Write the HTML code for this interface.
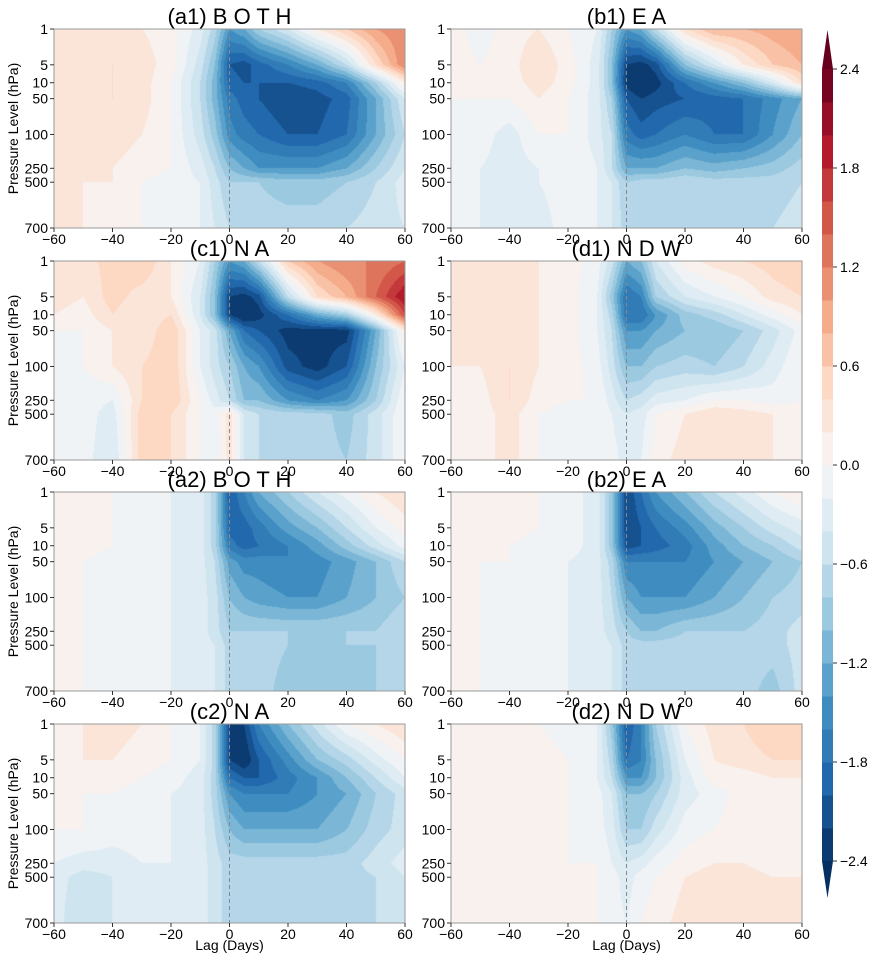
<!DOCTYPE html>
<html><head><meta charset="utf-8"><style>
body{margin:0;background:#fff;width:874px;height:964px;position:relative;overflow:hidden;font-family:"Liberation Sans",sans-serif}
canvas{position:absolute}
svg{position:absolute;left:0;top:0}
</style></head><body>
<div id="wrap"></div>
<svg id="ov" width="874" height="964"></svg>
<script>
const lags=[-60,-50,-40,-30,-20,-10,-5,0,5,10,20,30,40,50,60];
const levels=[1,5,10,50,100,250,500,700];
const levelFrac=[0,0.18,0.27,0.35,0.53,0.70,0.77,1];
const yTickLabels=["1","5","10","50","100","250","500","700"];
const xTickLabels=[-60,-40,-20,0,20,40,60];
const cbTicks=[2.4,1.8,1.2,0.6,0.0,-0.6,-1.2,-1.8,-2.4];
const titles=["(a1) B O T H","(b1) E A","(c1) N A","(d1) N D W","(a2) B O T H","(b2) E A","(c2) N A","(d2) N D W"];
const a1=[[0.3,0.3,0.2,0.2,0.1,-0.3,-0.7,-1.4,-1.2,-0.8,-0.4,0.2,0.6,1.0,1.2],[0.2,0.3,0.4,0.3,0.1,-0.5,-1.0,-2.0,-2.1,-1.9,-1.6,-1.2,-0.6,0.4,1.2],[0.2,0.3,0.4,0.3,0,-0.6,-1.1,-1.9,-2.0,-2.0,-2.0,-1.9,-1.6,-0.8,0.2],[0.2,0.3,0.4,0.3,0,-0.6,-1.1,-1.7,-1.9,-2.0,-2.2,-2.1,-1.9,-1.2,-0.4],[0.2,0.3,0.3,0.2,0,-0.5,-0.9,-1.5,-1.7,-1.8,-2.0,-2.0,-1.8,-1.2,-0.6],[0.2,0.2,0.2,0.1,0,-0.3,-0.6,-1.0,-1.2,-1.4,-1.4,-1.4,-1.2,-0.8,-0.4],[0.2,0.2,0.2,0,-0.1,-0.2,-0.5,-0.8,-0.8,-0.8,-0.9,-0.9,-0.8,-0.6,-0.3],[0.2,0.2,0.1,0,-0.1,-0.2,-0.4,-0.6,-0.6,-0.7,-0.7,-0.7,-0.6,-0.5,-0.4]];
const b1=[[0.1,-0.1,0.1,0.2,0,-0.2,-0.8,-1.4,-1.2,-0.6,0.4,0.8,0.8,0.9,1.0],[0.1,0,0.1,0.4,0.1,-0.3,-1.0,-2.2,-2.3,-2.1,-1.0,-0.4,0.2,0.6,0.8],[0,0,0.1,0.3,0.1,-0.3,-1.0,-2.3,-2.5,-2.3,-1.8,-1.4,-1.0,-0.4,0.4],[0,0,0,0.2,0,-0.3,-0.8,-2.0,-2.2,-2.1,-2.0,-1.9,-1.8,-1.5,-1.2],[-0.1,-0.1,-0.3,0,0,-0.3,-0.6,-1.7,-1.9,-1.8,-1.6,-1.8,-1.8,-1.4,-1.0],[-0.2,-0.2,-0.3,-0.2,0,-0.2,-0.6,-1.2,-1.2,-1.2,-1.0,-1.1,-1.0,-0.9,-0.7],[-0.2,-0.2,-0.3,-0.2,-0.1,-0.2,-0.4,-0.8,-0.7,-0.7,-0.6,-0.7,-0.7,-0.7,-0.6],[-0.2,-0.2,-0.3,-0.3,-0.1,-0.2,-0.4,-0.7,-0.6,-0.6,-0.6,-0.6,-0.7,-0.6,-0.5]];
const c1=[[0.4,0.3,0.5,0.6,0.2,-0.2,-0.8,-1.4,-1.2,-0.6,0.6,1.0,1.2,1.2,1.4],[0.3,0.2,0.5,0.3,0.2,-0.4,-1.0,-2.2,-2.3,-2.1,-0.6,0.4,0.8,1.4,2.0],[0.2,0.1,0.4,0.2,0.4,-0.4,-1.0,-2.2,-2.5,-2.3,-1.8,-1.2,-0.8,0.2,1.6],[0,0,0.2,0.2,0.6,-0.2,-0.5,-1.2,-1.8,-2.0,-2.3,-2.3,-2.3,-1.2,0.2],[-0.1,0,0.2,0.4,0.6,-0.2,-0.5,-0.8,-1.2,-1.4,-2.1,-2.3,-2.0,-1.0,-0.2],[-0.2,-0.1,-0.2,0.4,0.6,0,-0.3,-0.6,-1.0,-1.0,-1.4,-1.6,-1.4,-0.8,0],[-0.2,-0.1,-0.3,0.5,0.4,0,-0.1,0.3,-0.4,-0.6,-0.7,-0.7,-0.9,-0.5,0],[-0.1,-0.1,-0.4,0.5,0.4,0,-0.2,0.3,-0.4,-0.6,-0.7,-0.7,-0.8,-0.5,0]];
const d1=[[0.3,0.3,0.2,0.2,0.1,-0.1,-0.5,-1.2,-1.0,-0.4,0.1,0.3,0.4,0.5,0.6],[0.4,0.4,0.3,0.2,0.1,-0.2,-0.9,-1.8,-1.6,-0.8,-0.4,-0.2,0,0.3,0.4],[0.3,0.3,0.3,0.2,0.1,-0.2,-0.7,-1.8,-1.8,-1.4,-0.9,-0.7,-0.4,-0.1,0.2],[0.2,0.2,0.3,0.2,0.1,-0.2,-0.6,-1.4,-1.4,-1.2,-1.0,-1.0,-0.8,-0.5,-0.1],[0.2,0.2,0.4,0.2,0.1,-0.1,-0.5,-1.0,-1.0,-0.8,-0.7,-0.8,-0.6,-0.3,0],[0.1,0.1,0.4,0.1,0,0,-0.3,-0.6,-0.5,-0.3,-0.2,0,0,-0.1,0],[0.1,0.1,0.3,0,-0.1,0,-0.2,-0.4,-0.3,0,0.2,0.4,0.3,0.2,0.1],[0.1,0.1,0.3,0,0,0,-0.1,-0.3,-0.2,0.1,0.3,0.4,0.3,0.2,0.1]];
const a2=[[0,0,0,-0.1,-0.2,-0.3,-0.7,-2.0,-1.6,-1.2,-0.8,-0.4,-0.1,0.2,0.4],[0,0,0,-0.1,-0.2,-0.3,-0.7,-1.9,-1.9,-1.7,-1.3,-1.0,-0.6,-0.2,0.1],[0,0.1,0,-0.1,-0.2,-0.3,-0.7,-1.7,-1.9,-1.8,-1.6,-1.3,-0.9,-0.5,-0.1],[0,0,-0.1,-0.1,-0.2,-0.3,-0.6,-1.3,-1.5,-1.5,-1.6,-1.5,-1.3,-1.0,-0.6],[0,0,-0.1,-0.1,-0.2,-0.3,-0.5,-1.0,-1.2,-1.3,-1.4,-1.4,-1.2,-1.0,-0.8],[0,0,-0.1,-0.1,-0.2,-0.3,-0.5,-0.8,-0.8,-0.8,-0.8,-0.8,-0.8,-0.8,-0.6],[0,0,-0.1,-0.1,-0.2,-0.3,-0.4,-0.7,-0.7,-0.7,-0.8,-0.9,-0.8,-0.8,-0.6],[0,0,-0.1,-0.1,-0.2,-0.3,-0.4,-0.7,-0.7,-0.7,-0.9,-0.9,-0.9,-0.8,-0.6]];
const b2=[[0.1,0.1,0.1,0,-0.1,-0.3,-0.9,-2.2,-1.8,-1.4,-1.0,-0.6,-0.3,0,0.2],[0.1,0.1,0.1,0,-0.1,-0.3,-0.9,-2.2,-2.0,-1.8,-1.5,-1.1,-0.8,-0.5,-0.3],[0,0,0,-0.1,-0.1,-0.3,-0.9,-2.1,-2.0,-1.9,-1.7,-1.3,-1.0,-0.8,-0.5],[0,0,0,-0.1,-0.2,-0.3,-0.7,-1.6,-1.6,-1.6,-1.6,-1.4,-1.2,-1.0,-0.8],[0,0,-0.1,-0.1,-0.2,-0.3,-0.6,-1.2,-1.4,-1.4,-1.4,-1.2,-1.0,-0.8,-0.7],[0,0,-0.1,-0.2,-0.2,-0.3,-0.5,-0.8,-1.0,-1.0,-0.8,-0.8,-0.8,-0.7,-0.5],[0,0,-0.2,-0.2,-0.2,-0.3,-0.4,-0.7,-0.7,-0.7,-0.7,-0.7,-0.7,-0.7,-0.5],[0,0,-0.2,-0.2,-0.2,-0.3,-0.4,-0.7,-0.7,-0.7,-0.7,-0.7,-0.7,-0.9,-0.5]];
const c2=[[0.1,0.2,0.3,0.2,0,-0.2,-0.7,-2.2,-2.2,-1.6,-1.0,-0.5,0,0.2,0.4],[0.1,0.2,0.2,0.1,0,-0.2,-0.7,-2.2,-2.4,-2.0,-1.5,-1.0,-0.7,-0.3,0],[0,0.1,0.1,0,-0.1,-0.3,-0.7,-1.8,-2.0,-2.0,-1.7,-1.4,-1.0,-0.6,-0.2],[0,0,0,-0.1,-0.2,-0.3,-0.7,-1.4,-1.6,-1.6,-1.6,-1.4,-1.2,-0.8,-0.5],[0,0,-0.1,-0.1,-0.2,-0.3,-0.6,-1.0,-1.2,-1.2,-1.2,-1.2,-1.0,-0.7,-0.5],[-0.2,-0.3,-0.3,-0.2,-0.2,-0.3,-0.5,-0.7,-0.7,-0.7,-0.7,-0.7,-0.7,-0.5,-0.3],[-0.3,-0.5,-0.4,-0.3,-0.3,-0.3,-0.5,-0.7,-0.7,-0.7,-0.7,-0.7,-0.7,-0.6,-0.4],[-0.3,-0.6,-0.4,-0.3,-0.3,-0.3,-0.5,-0.7,-0.7,-0.7,-0.7,-0.7,-0.7,-0.6,-0.5]];
const d2=[[0.1,0.1,0.1,0,-0.1,-0.2,-0.9,-2.0,-1.6,-0.8,0,0.3,0.4,0.6,0.6],[0.2,0.2,0.2,0.1,0,-0.2,-0.7,-1.8,-1.6,-1.0,-0.2,0.2,0.3,0.4,0.4],[0.1,0.1,0.1,0.1,0,-0.2,-0.6,-1.4,-1.4,-1.0,-0.3,0.1,0.1,0.2,0.2],[0,0.1,0.1,0.1,0,-0.1,-0.4,-1.0,-1.0,-0.8,-0.3,-0.1,0.1,0.1,0.1],[0,0.1,0.1,0.1,0,-0.1,-0.3,-0.8,-0.8,-0.5,-0.1,0,0.1,0.1,0.1],[0,0.1,0.1,0.1,0,0,-0.2,-0.4,-0.3,-0.1,0.1,0.2,0.2,0.1,0.1],[0,0.1,0.1,0.1,0,0,-0.1,-0.3,-0.1,0,0.2,0.3,0.3,0.2,0.2],[0,0.1,0.1,0.1,0,0,-0.1,-0.2,0,0.1,0.3,0.3,0.3,0.2,0.2]];
const fields=[a1,b1,c1,d1,a2,b2,c2,d2];

const COLX=[54,451], ROWY=[29,261,492,724], PW=351, PH=199;
const anchors=['#053061','#2166ac','#4393c3','#92c5de','#d1e5f0','#f7f7f7','#fddbc7','#f4a582','#d6604d','#b2182b','#67001f'].map(h=>[1,3,5].map(i=>parseInt(h.substr(i,2),16)));
function cmap(v){let t=(v+2.4)/4.8;t=Math.max(0,Math.min(1,t))*10;let i=Math.min(9,Math.floor(t)),f=t-i;return anchors[i].map((c,k)=>Math.round(c+(anchors[i+1][k]-c)*f));}
function binColor(v){let b=Math.floor(v/0.2);b=Math.max(-12,Math.min(11,b));return cmap((b+0.5)*0.2);}
const xScale=(lag,x0)=>x0+(lag+60)/120*PW;
const yScale=(fr,y0)=>y0+fr*PH;
function interp(arr,pos,v){for(let i=0;i<arr.length-1;i++){if(v<=arr[i+1]||i==arr.length-2){return i+Math.max(0,Math.min(1,(v-arr[i])/(arr[i+1]-arr[i])));}}}
const NS='http://www.w3.org/2000/svg';
const ov=document.getElementById('ov');
function st(tag,attrs,parent,text){const e=document.createElementNS(NS,tag);for(const k in attrs)e.setAttribute(k,attrs[k]);if(text!==undefined)e.textContent=text;(parent||ov).appendChild(e);return e;}
fields.forEach((F,p)=>{
  const x0=COLX[p%2], y0=ROWY[Math.floor(p/2)];
  const cv=document.createElement('canvas');cv.width=PW;cv.height=PH;cv.style.left=x0+'px';cv.style.top=y0+'px';
  
  
  document.body.insertBefore(cv,ov);
  const ctx=cv.getContext('2d');const img=ctx.createImageData(PW,PH);
  for(let py=0;py<PH;py++){const fr=(py+0.5)/PH;const ry=interp(levelFrac,0,fr);const r0=Math.floor(ry),r1=Math.min(7,r0+1),fy=ry-r0;
    for(let px=0;px<PW;px++){const lag=(px+0.5)/PW*120-60;const cx=interp(lags,0,lag);const c0=Math.floor(cx),c1_=Math.min(14,c0+1),fx=cx-c0;
      const v=(F[r0][c0]*(1-fx)+F[r0][c1_]*fx)*(1-fy)+(F[r1][c0]*(1-fx)+F[r1][c1_]*fx)*fy;
      const col=binColor(v);const k=(py*PW+px)*4;img.data[k]=col[0];img.data[k+1]=col[1];img.data[k+2]=col[2];img.data[k+3]=255;}}
  ctx.putImageData(img,0,0);
  const g=st('g',{});
  
  
  const zx=xScale(0,x0);
  st('line',{x1:zx,x2:zx,y1:y0,y2:y0+PH,stroke:'#888','stroke-width':1,'stroke-dasharray':'4,3'},g);
  st('rect',{x:x0,y:y0,width:PW,height:PH,fill:'none',stroke:'#999','stroke-width':1},g);
  const t=st('text',{x:x0+PW/2,y:y0-5,'text-anchor':'middle','font-size':22,fill:'#000'},g,titles[p]);
  
  
  xTickLabels.forEach(l=>{const x=xScale(l,x0);st('line',{x1:x,x2:x,y1:y0+PH,y2:y0+PH+4,stroke:'#333'},g);
    st('text',{x:x,y:y0+PH+16,'text-anchor':'middle','font-size':14,fill:'#000'},g,l<0?'\u2212'+(-l):String(l));});
  yTickLabels.forEach((l,i)=>{const y=yScale(levelFrac[i],y0);st('line',{x1:x0-4,x2:x0,y1:y,y2:y,stroke:'#333'},g);
    st('text',{x:x0-6,y:y+5,'text-anchor':'end','font-size':14,fill:'#000'},g,l);});
  if(p%2==0){const yl=st('text',{x:0,y:0,'text-anchor':'middle','font-size':14,fill:'#000',transform:`translate(18,${y0+PH/2}) rotate(-90)`},g,'Pressure Level (hPa)');
    
    }
  if(p>=6){const xl=st('text',{x:x0+PW/2,y:950,'text-anchor':'middle','font-size':14,fill:'#000'},g,'Lag (Days)');
    
    }
});
const cb=st('g',{});


const CBX=822,CBW=11,CBT=69,CBB=861;
const cbY=v=>CBT+(2.4-v)/4.8*(CBB-CBT);
for(let b=-12;b<12;b++){const c=cmap((b+0.5)*0.2);st('rect',{x:CBX,y:cbY((b+1)*0.2),width:CBW,height:cbY(b*0.2)-cbY((b+1)*0.2)+0.5,fill:`rgb(${c})`},cb);}
let ct=cmap(2.5),cbm=cmap(-2.5);
st('polygon',{points:`${CBX},${CBT} ${CBX+CBW},${CBT} ${CBX+CBW/2},30`,fill:`rgb(${ct})`},cb);
st('polygon',{points:`${CBX},${CBB} ${CBX+CBW},${CBB} ${CBX+CBW/2},898`,fill:`rgb(${cbm})`},cb);
cbTicks.forEach(v=>{const y=cbY(v);st('line',{x1:CBX+CBW,x2:CBX+CBW+4,y1:y,y2:y,stroke:'#333'},cb);
  st('text',{x:CBX+CBW+7,y:y+5,'font-size':14,fill:'#000'},cb,v<0?'\u2212'+(-v).toFixed(1):v.toFixed(1));});
</script>
</body></html>
